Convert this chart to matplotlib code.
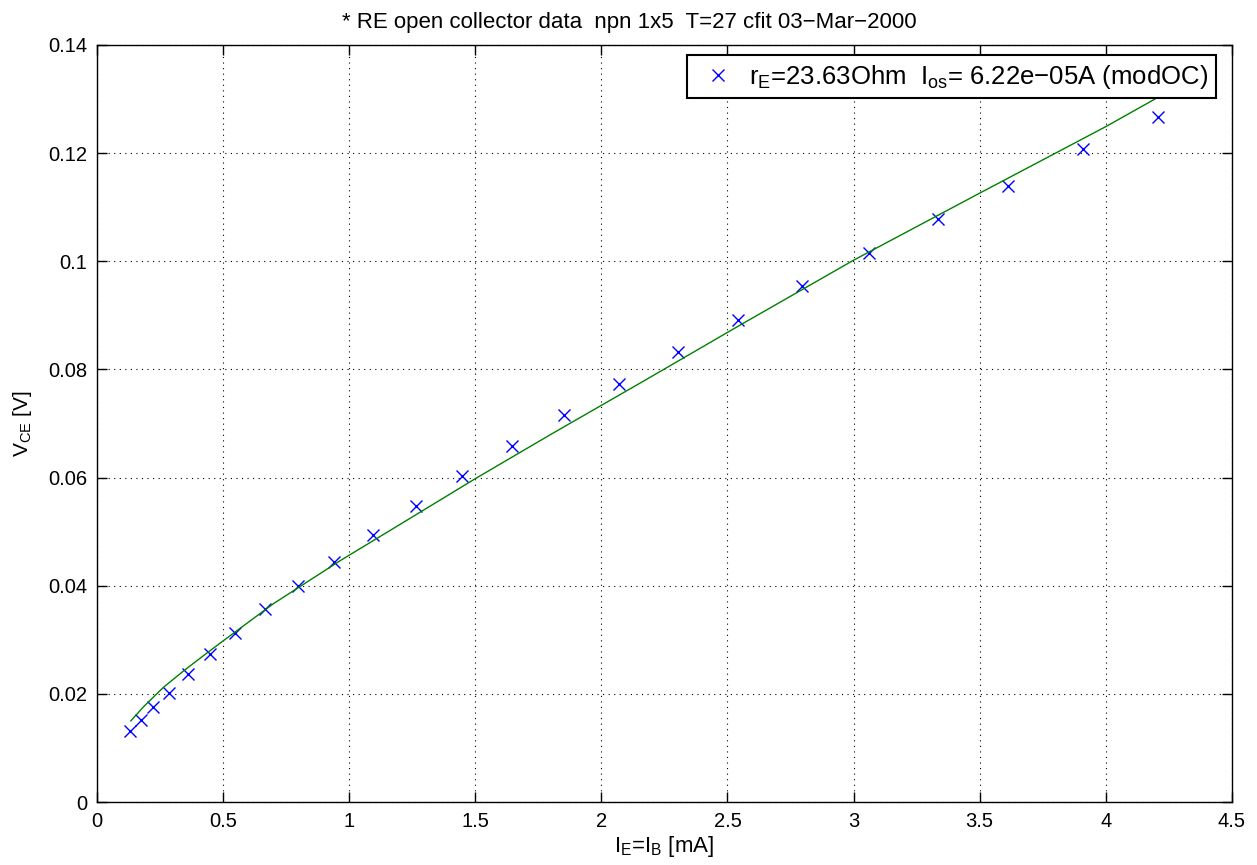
import matplotlib.pyplot as plt
import numpy as np

plt.rcParams['font.family'] = ['Liberation Sans', 'DejaVu Sans']
plt.rcParams['mathtext.fontset'] = 'custom'
plt.rcParams['mathtext.rm'] = 'Liberation Sans'
plt.rcParams['mathtext.it'] = 'Liberation Sans'
plt.rcParams['mathtext.default'] = 'regular'

# measured points: emitter current [mA] vs V_CE [V]
ie_meas = [0.131, 0.174, 0.222, 0.285, 0.361, 0.448, 0.547, 0.666, 0.797, 0.940,
           1.094, 1.265, 1.447, 1.646, 1.852, 2.070, 2.304, 2.542, 2.795, 3.061,
           3.335, 3.612, 3.910, 4.207]
vce_meas = [0.0131, 0.0152, 0.0176, 0.0202, 0.0237, 0.0274, 0.0313, 0.0357, 0.0400, 0.0444,
            0.0494, 0.0547, 0.0603, 0.0658, 0.0716, 0.0773, 0.0832, 0.0891, 0.0954, 0.1015,
            0.1078, 0.1139, 0.1208, 0.1267]

# fitted curve
ie_fit = [0.134, 0.184, 0.263, 0.342, 0.42, 0.50, 0.70, 0.963, 1.20, 1.50, 1.80,
          2.173, 2.55, 3.00, 3.50, 4.00, 4.195]
vce_fit = [0.0150, 0.0176, 0.0212, 0.0242, 0.0270, 0.0298, 0.0367, 0.0446, 0.0513,
           0.0598, 0.0680, 0.0780, 0.0882, 0.1002, 0.1126, 0.1249, 0.1300]

legend_label = r'r$_E$=23.63Ohm  I$_{os}$= 6.22e−05A (modOC)'
title = '* RE open collector data  npn 1x5  T=27 cfit 03−Mar−2000'

fig = plt.figure(figsize=(12.57, 8.65), dpi=100)
ax = fig.add_axes([0.0772, 0.0728, 0.9028, 0.8752])

ax.plot(ie_meas, vce_meas, 'x', color='blue', markersize=9, markeredgewidth=1.0,
        label=legend_label)
ax.plot(ie_fit, vce_fit, '-', color=(0, 0.5, 0), linewidth=1.0)

ax.set_xlim(0, 4.5)
ax.set_ylim(0, 0.14)
ax.set_xticks(np.arange(0, 4.51, 0.5))
ax.set_xticklabels(['0', '0.5', '1', '1.5', '2', '2.5', '3', '3.5', '4', '4.5'])
ax.set_yticks(np.arange(0, 0.141, 0.02))
ax.set_yticklabels(['0', '0.02', '0.04', '0.06', '0.08', '0.1', '0.12', '0.14'])
ax.tick_params(direction='in', top=True, right=True, labelsize=14.5, length=7,
               width=1, pad=7)
ax.grid(True, color='black', linestyle=(0, (1, 4)), linewidth=0.8)
for s in ax.spines.values():
    s.set_linewidth(1.0)

ax.set_xlabel(r'I$_E$=I$_B$ [mA]', fontsize=16, labelpad=2)
ax.set_ylabel(r'V$_{CE}$ [V]', fontsize=15, labelpad=10)
ax.set_title(title, fontsize=16, pad=12, x=0.469)

leg = ax.legend(loc='upper right', bbox_to_anchor=(0.986, 0.987), fontsize=18.5,
                fancybox=False, framealpha=1, edgecolor='black', borderaxespad=0,
                borderpad=0.3, handlelength=1.8, handletextpad=0.3)
leg.get_frame().set_linewidth(1.5)

fig.savefig('out.png', dpi=100)
